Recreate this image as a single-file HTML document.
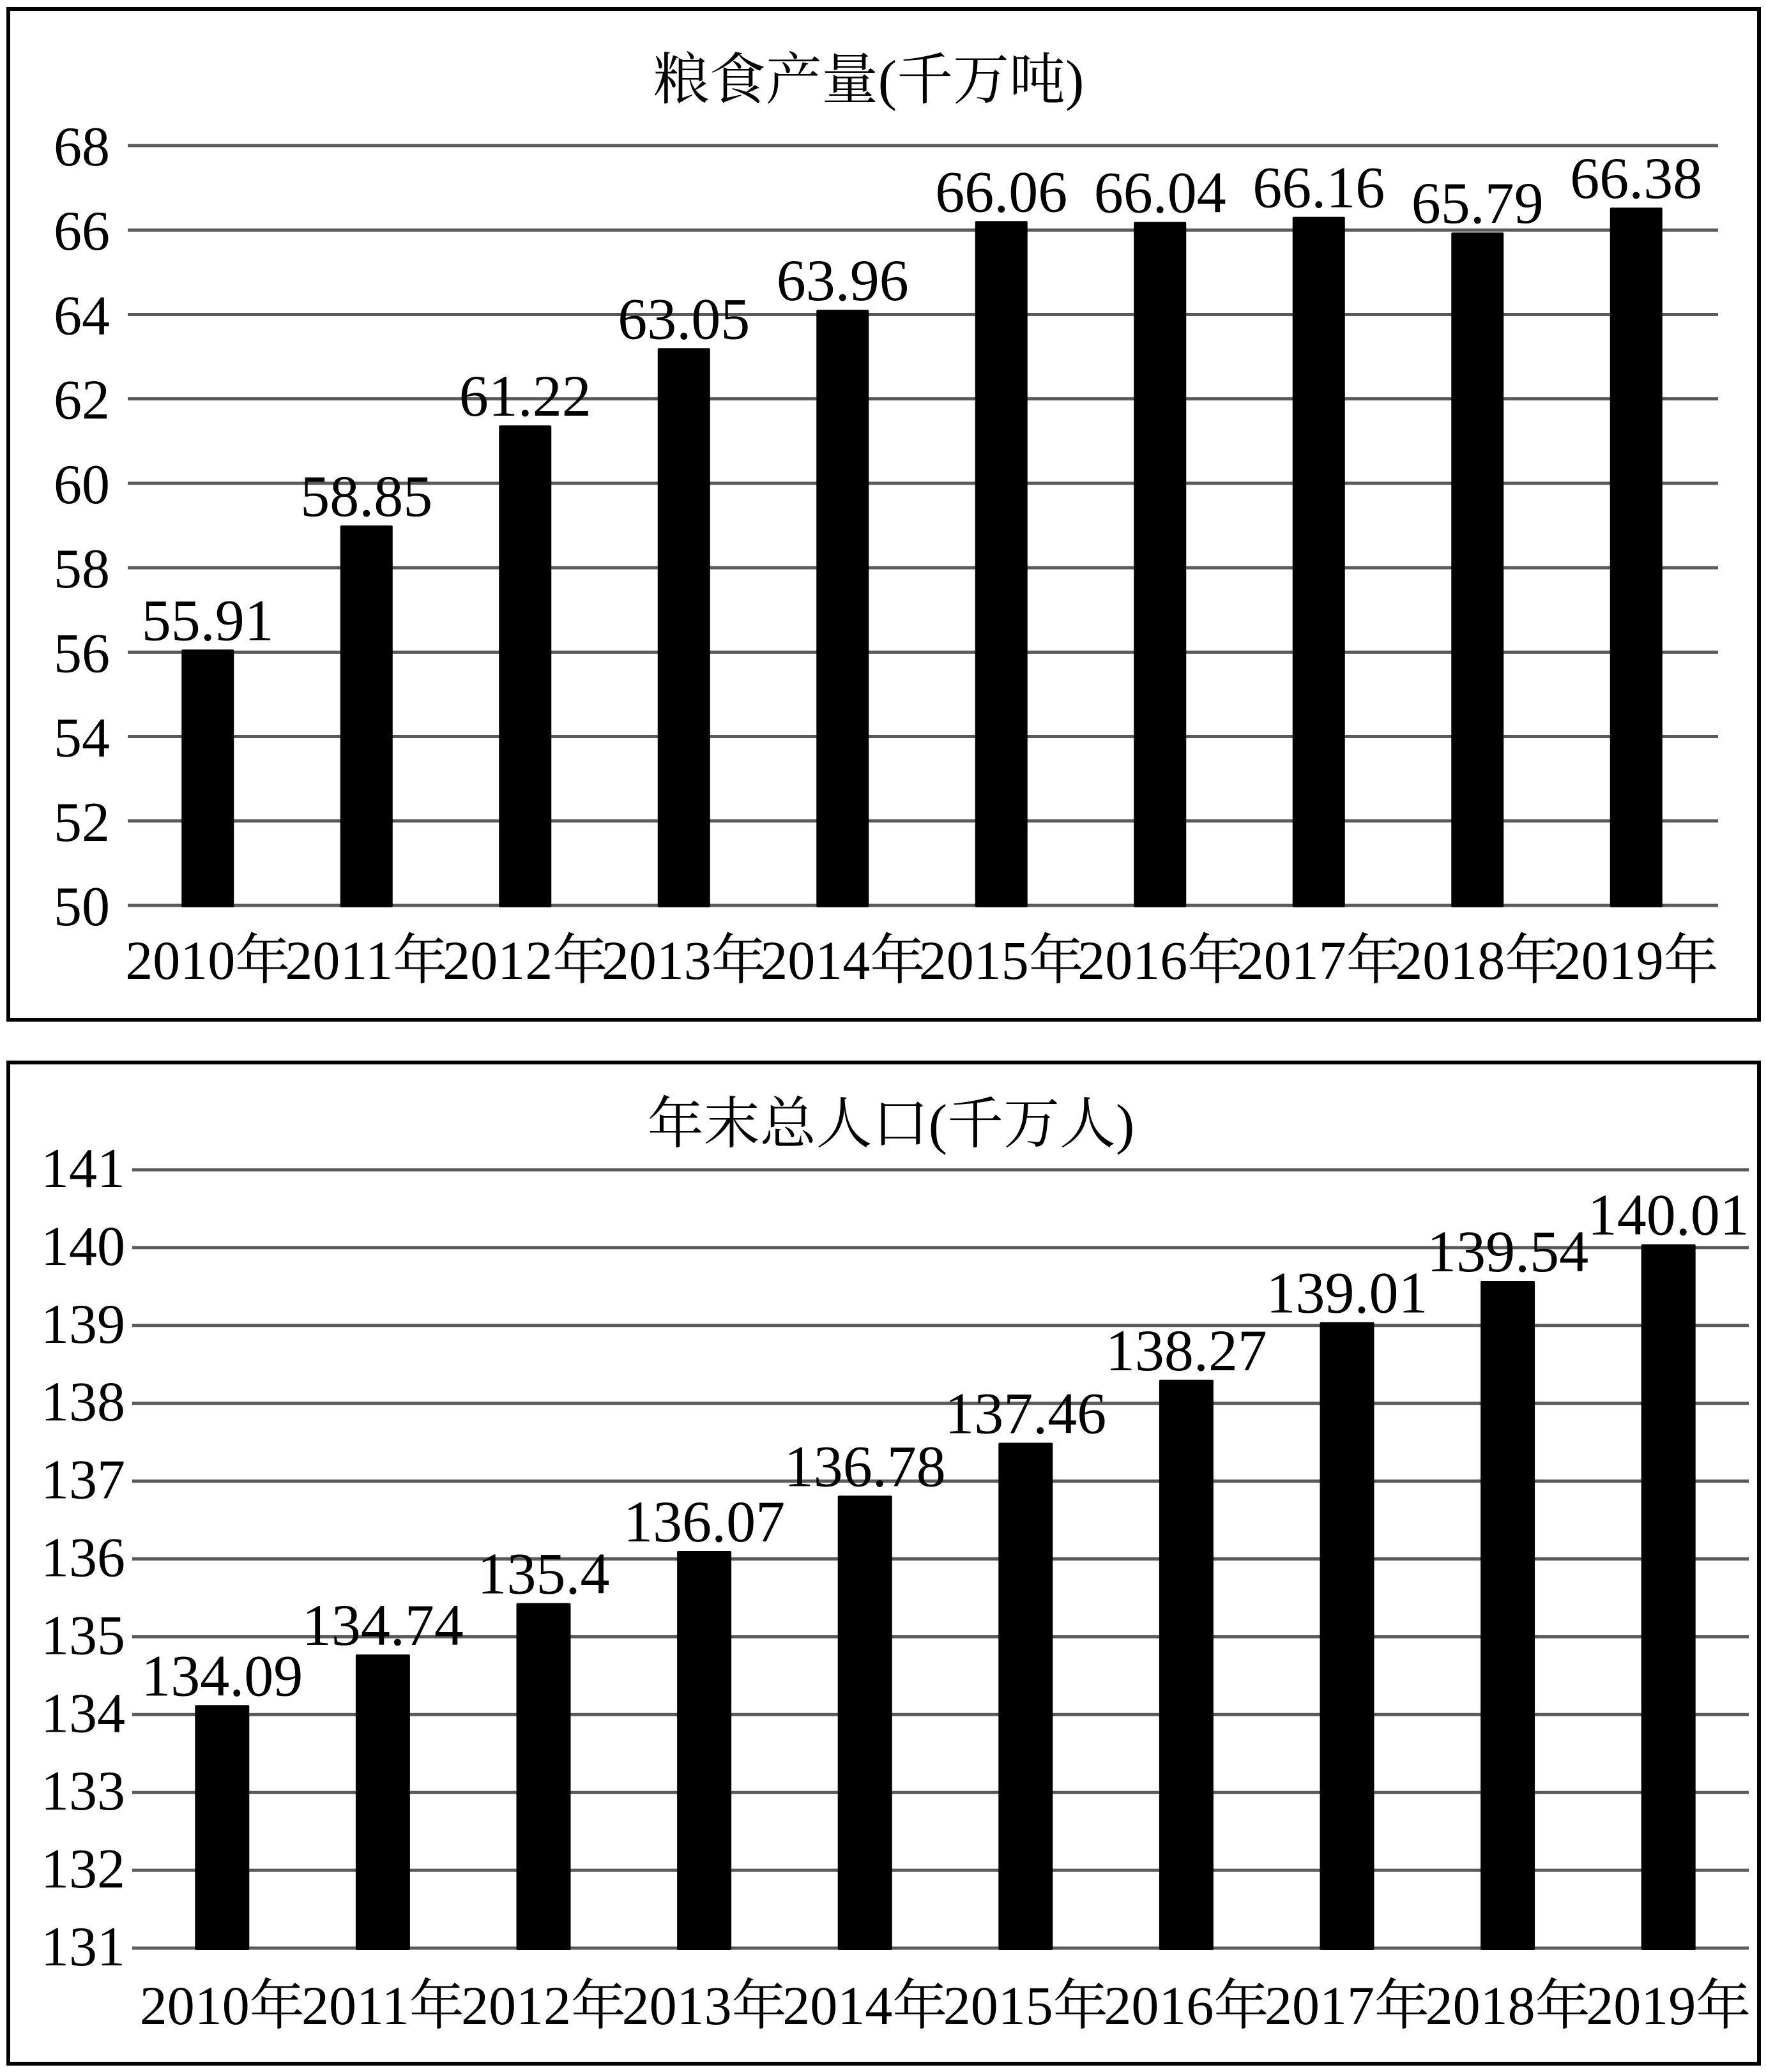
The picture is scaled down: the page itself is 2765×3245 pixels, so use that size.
<!DOCTYPE html>
<html><head><meta charset="utf-8">
<style>
html,body{margin:0;padding:0;background:#fff;}
svg{display:block;}
text{font-family:"Liberation Serif","Noto Serif CJK SC",serif;fill:#000;}
</style></head>
<body>
<svg id="chart" width="2765" height="3245" viewBox="0 0 2765 3245" xmlns="http://www.w3.org/2000/svg">
<rect x="0" y="0" width="2765" height="3245" fill="#fff"/>
<rect x="13" y="14" width="2741" height="1583" fill="none" stroke="#000" stroke-width="6"/>
<rect x="13" y="1664" width="2741" height="1568" fill="none" stroke="#000" stroke-width="6"/>
<text x="1360" y="155" font-size="88" text-anchor="middle">粮食产量(千万吨)</text>
<text x="1395" y="1790" font-size="88" text-anchor="middle">年末总人口(千万人)</text>
<g id="g1"></g>
<g id="g2"></g>
</svg>
<script>
const categories = ["2010年","2011年","2012年","2013年","2014年","2015年","2016年","2017年","2018年","2019年"];
const grainValues = [55.91,58.85,61.22,63.05,63.96,66.06,66.04,66.16,65.79,66.38];
const grainTicks = [50,52,54,56,58,60,62,64,66,68];
const popValues = [134.09,134.74,135.4,136.07,136.78,137.46,138.27,139.01,139.54,140.01];
const popTicks = [131,132,133,134,135,136,137,138,139,140,141];

const NS = "http://www.w3.org/2000/svg";
function mk(tag, attrs, parent){
  const e = document.createElementNS(NS, tag);
  for (const k in attrs) e.setAttribute(k, attrs[k]);
  parent.appendChild(e);
  return e;
}
function draw(g, cfg, values, ticks, prefix){
  const min = ticks[0], max = ticks[ticks.length-1];
  const y = v => cfg.yBottom - (v - min) / (max - min) * (cfg.yBottom - cfg.yTop);
  const band = (cfg.xR - cfg.xL) / categories.length;
  const xc = i => cfg.xL + band * (i + 0.5);
  ticks.forEach(t => {
    const ln = mk("line", {x1: cfg.gx1, x2: cfg.gx2, y1: y(t), y2: y(t), stroke: "#5a5a5a", "stroke-width": 5}, g);
    
    
    const tx = mk("text", {x: cfg.tickX, y: y(t) + cfg.tickDy, "font-size": 88, "text-anchor": "end"}, g);
    tx.textContent = t;
    
    
  });
  values.forEach((v, i) => {
    const top = y(v) - cfg.off;
    const r = mk("rect", {x: xc(i) - cfg.bw/2, y: top, width: cfg.bw, height: cfg.yBottom - top + 3, fill: "#000", rx: 2}, g);
    
    
    const lb = mk("text", {x: xc(i), y: top - 15, "font-size": 92, "text-anchor": "middle"}, g);
    lb.textContent = v;
    
    
    const cl = mk("text", {x: xc(i), y: cfg.catY, "font-size": 86, "text-anchor": "middle"}, g);
    cl.textContent = categories[i];
    
    
  });
}
draw(document.getElementById("g1"), {yTop:228, yBottom:1418, xL:201, xR:2686, gx1:200, gx2:2690, tickX:172, tickDy:31, bw:82, off:10, catY:1533}, grainValues, grainTicks, "grain");
draw(document.getElementById("g2"), {yTop:1832, yBottom:3051, xL:222, xR:2738, gx1:207, gx2:2738, tickX:196, tickDy:27, bw:85, off:4, catY:3170}, popValues, popTicks, "population");
</script>
</body></html>
